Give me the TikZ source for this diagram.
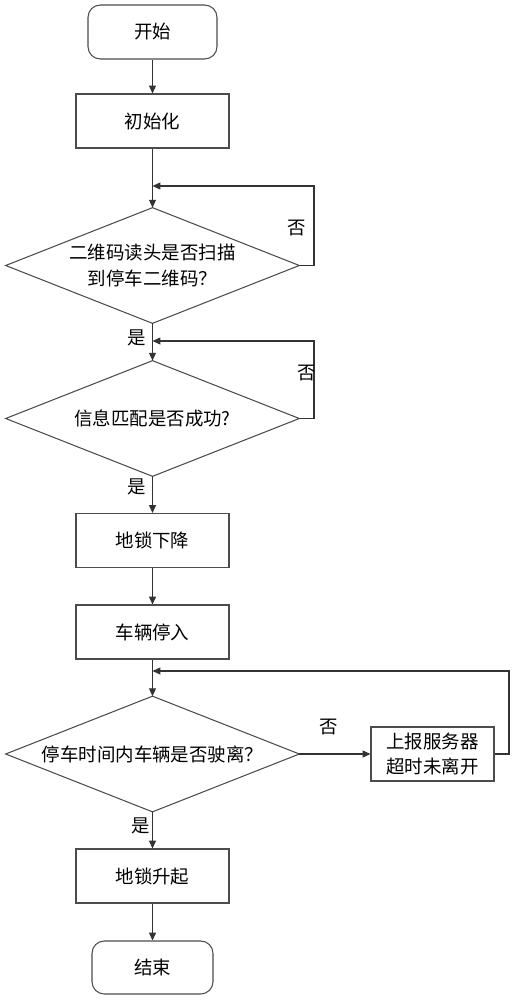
\documentclass[tikz,border=0pt]{standalone}
\usepackage{fontspec}
\setmainfont{Noto Sans CJK SC}
\usetikzlibrary{shapes.geometric,arrows.meta,calc}
\begin{document}
\begin{tikzpicture}[x=0.02cm,y=-0.02cm,
  font=\fontsize{10.5}{14.7}\selectfont,
  line/.style={draw=black!80,line width=0.6pt},
  arr/.style={line,-{Triangle[length=4.5pt,width=4pt]}},
  proc/.style={draw=black!70,line width=0.6pt,minimum width=3.06cm,minimum height=1.08cm,inner sep=0pt},
  term/.style={proc,rounded corners=7pt},
  dec/.style={rectangle,minimum width=5.86cm,minimum height=2.3cm,inner sep=0pt,align=center},
  decline/.style={draw=black!70,line width=0.6pt},
  lab/.style={inner sep=0pt}]
\useasboundingbox (0,0) rectangle (514,1000);
\node[term,minimum width=2.58cm] (start) at (152.5,32) {开始};
\node[proc] (init) at (152.5,121) {初始化};
\node[dec] (d1) at (152.5,265.5) {二维码读头是否扫描\\到停车二维码？};
\node[dec] (d2) at (152.5,418.5) {信息匹配是否成功?};
\node[proc] (down) at (152.5,540.5) {地锁下降};
\node[proc] (park) at (152.5,632) {车辆停入};
\node[dec] (d3) at (152.5,754) {停车时间内车辆是否驶离？};
\node[proc,minimum width=2.46cm,align=center] (rep) at (432.5,754) {上报服务器\\超时未离开};
\node[proc] (up) at (152.5,876) {地锁升起};
\node[term,minimum width=2.42cm,minimum height=1.06cm] (end) at (152.5,967.5) {结束};
\foreach \d in {d1,d2,d3}
  \draw[decline] (\d.north) -- (\d.east) -- (\d.south) -- (\d.west) -- cycle;
\coordinate (j1) at (152.5,186);
\coordinate (j2) at (152.5,341);
\coordinate (j3) at (152.5,671);
\coordinate (r1) at (314,265.5);
\coordinate (r2) at (314,418.5);
\coordinate (r3) at (509,754);
\draw[arr] (start) -- (init);
\draw[arr] (init) -- (d1);
\draw[arr] (d1.east) -- (r1) |- (j1);
\draw[arr] (d1) -- (d2);
\draw[arr] (d2.east) -- (r2) |- (j2);
\draw[arr] (d2) -- (down);
\draw[arr] (down) -- (park);
\draw[arr] (park) -- (d3);
\draw[arr] (d3) -- (rep);
\draw[arr] (rep.east) -- (r3) |- (j3);
\draw[arr] (d3) -- (up);
\draw[arr] (up) -- (end);
\node[lab] (n1) at (297,228) {否};
\node[lab] (n2) at (307,373) {否};
\node[lab] (n3) at (329,727) {否};
\node[lab] (y1) at (137,338) {是};
\node[lab] (y2) at (137,487) {是};
\node[lab] (y3) at (141,826) {是};
\end{tikzpicture}
\end{document}
